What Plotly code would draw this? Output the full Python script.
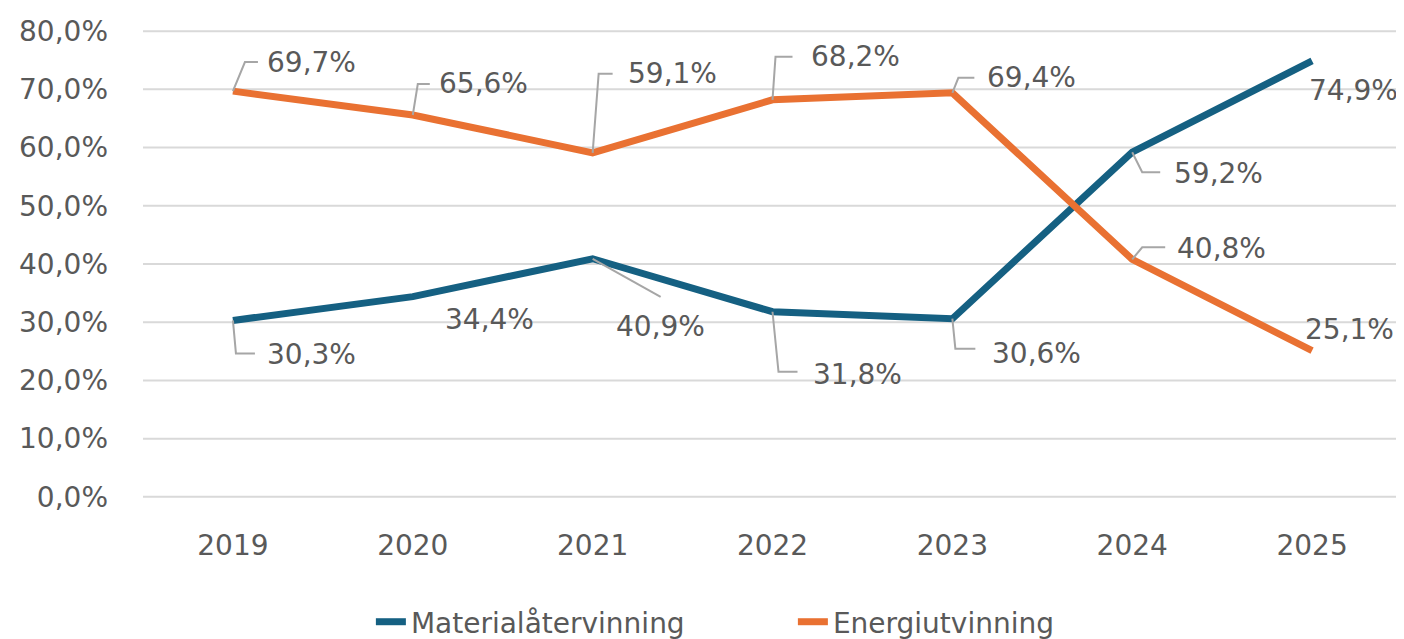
import plotly.graph_objects as go

years = ["2019", "2020", "2021", "2022", "2023", "2024", "2025"]
material = [30.3, 34.4, 40.9, 31.8, 30.6, 59.2, 74.9]
energi = [69.7, 65.6, 59.1, 68.2, 69.4, 40.8, 25.1]
series_names = ["Materialåtervinning", "Energiutvinning"]
y_ticks = [0, 10, 20, 30, 40, 50, 60, 70, 80]

BLUE = "#156082"
ORANGE = "#E97132"
TXT = "#595959"
LEAD = "#A6A6A6"
GRID = "#D9D9D9"
FONT = "DejaVu Sans"

# label placement styles (screen pixel offsets, y downward): text left offset and leader polyline
mat_style = [
    dict(t=(32, 34), lead=[(0, 0), (3, 33), (22, 33)]),
    dict(t=(30, 23), lead=None),
    dict(t=(21, 68), lead=[(0, 0), (68, 38)]),
    dict(t=(38, 63), lead=[(0, 0), (6, 60), (25, 60)]),
    dict(t=(38, 35), lead=[(0, 0), (3, 30), (23, 30)]),
    dict(t=(40, 21), lead=[(0, 0), (10, 20), (28, 20)]),
    dict(t=(-5, 30), lead=None),
]
en_style = [
    dict(t=(32, -29), lead=[(0, 0), (12, -29), (25, -29)]),
    dict(t=(24, -31), lead=[(0, 0), (5, -31), (17, -31)]),
    dict(t=(33, -79), lead=[(0, 0), (6, -79), (20, -79)]),
    dict(t=(36, -43), lead=[(0, 0), (3, -43), (20, -43)]),
    dict(t=(33, -15), lead=[(0, 0), (6, -15), (22, -15)]),
    dict(t=(43, -11), lead=[(0, 0), (10, -12), (33, -12)]),
    dict(t=(-9, -21), lead=None),
]


def fmt(v):
    return f"{v:.1f}".replace(".", ",") + "%"


fig = go.Figure()

# horizontal gridlines at every tick value (drawn below the data)
for t in y_ticks:
    fig.add_shape(type="line", xref="paper", yref="y", x0=0, x1=1, y0=t, y1=t,
                  line=dict(color=GRID, width=2), layer="below")

fig.add_trace(go.Scatter(x=years, y=material, mode="lines", name=series_names[0],
                         line=dict(color=BLUE, width=7)))
fig.add_trace(go.Scatter(x=years, y=energi, mode="lines", name=series_names[1],
                         line=dict(color=ORANGE, width=7)))

for vals, styles in ((material, mat_style), (energi, en_style)):
    for i, (yr, v, st) in enumerate(zip(years, vals, styles)):
        dx, dy = st["t"]
        fig.add_annotation(x=i, y=v, xref="x", yref="y", text=fmt(v), showarrow=False,
                           xanchor="left", yanchor="middle", xshift=dx, yshift=-dy,
                           font=dict(family=FONT, size=28, color=TXT))
        if st["lead"]:
            pts = st["lead"]
            path = "M" + " L".join(f"{px},{-py}" for px, py in pts)
            fig.add_shape(type="path", xref="x", yref="y", xsizemode="pixel", ysizemode="pixel",
                          xanchor=i, yanchor=v, path=path,
                          line=dict(color=LEAD, width=2))

# page body has an 8px margin, so the figure is 8px smaller and offset
fig.update_layout(
    template="none",
    width=1396, height=631,
    margin=dict(l=135, r=2, t=22, b=141, autoexpand=False),
    paper_bgcolor="white", plot_bgcolor="white",
    font=dict(family=FONT, color=TXT),
    showlegend=True,
    legend=dict(orientation="h", x=0.181, y=-0.265, xanchor="left", yanchor="middle",
                entrywidth=377, entrywidthmode="pixels", bgcolor="rgba(0,0,0,0)",
                font=dict(family=FONT, size=28, color=TXT)),
)
fig.update_xaxes(type="category", range=[-0.5, 6.5], showgrid=False, showline=False, ticks="",
                 automargin=False, zeroline=False,
                 tickfont=dict(family=FONT, size=28, color=TXT), ticklabelstandoff=28)
fig.update_yaxes(range=[-0.2, 80.2], tickvals=y_ticks, ticktext=[fmt(t) for t in y_ticks],
                 automargin=False, ticks="",
                 showgrid=False, zeroline=False, showline=False,
                 tickfont=dict(family=FONT, size=28, color=TXT), ticklabelstandoff=34)

fig.write_html("out.html")
